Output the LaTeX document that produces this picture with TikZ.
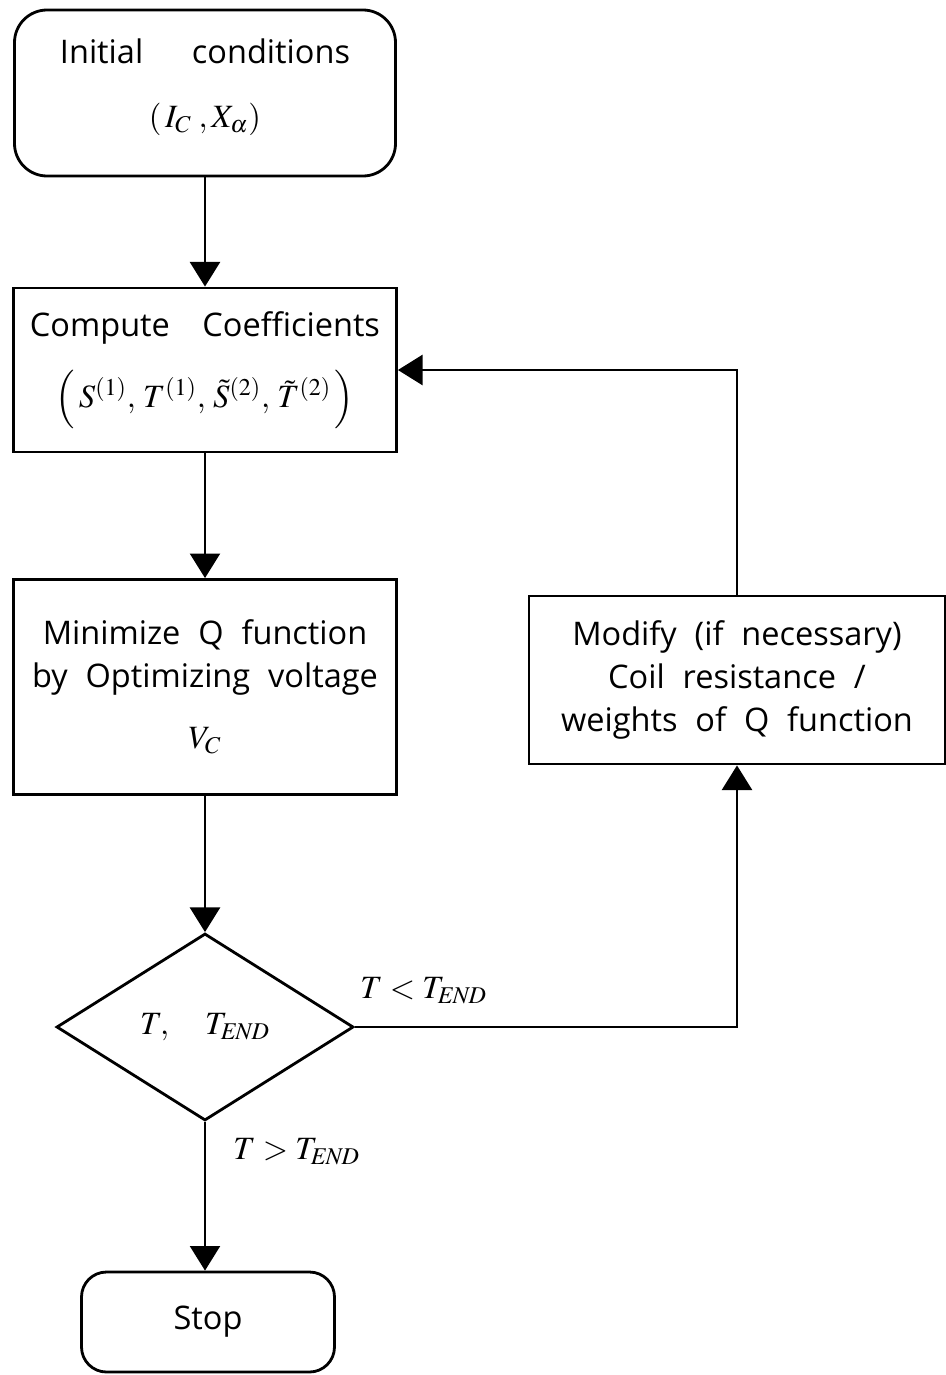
\documentclass[tikz,border=0pt]{standalone}
\usepackage{mathptmx}
\usepackage[no-math]{fontspec}
\setmainfont{Open Sans}
\usetikzlibrary{arrows.meta,shapes.geometric,positioning}

\tikzset{
  txt/.style={font={\fontsize{18.5}{24.5}\selectfont\spaceskip=0.55em\relax}},
  block/.style={draw,rectangle,txt,align=center,inner sep=0pt},
  term/.style={block,rounded corners=0.65cm},
  decide/.style={draw,diamond,txt,inner sep=0pt,minimum width=5.94cm,minimum height=3.74cm},
}

\begin{document}
\begin{tikzpicture}[->,>={Triangle[length=14pt,width=17pt]},line width=1.6pt]
  \useasboundingbox (-4.1,1.86) rectangle (14.8,-25.64);

  \node[term,minimum width=7.62cm,minimum height=3.32cm] (init) {Initial\hspace{1.5em}conditions\\[12pt]$(\,I_C\;,X_\alpha)$\\[-13pt]};
  \node[block,minimum width=7.66cm,minimum height=3.28cm] (coef) [below of=init,node distance=5.54cm]
        {Compute\hspace{1em}Coefficients\\[14pt]$\Bigl(\,S^{(1)},\,T^{(1)},\,\tilde{S}^{(2)},\,\tilde{T}^{(2)}\,\Bigr)$};
  \node[block,minimum width=7.66cm,minimum height=4.3cm] (mini) [below of=coef,node distance=6.34cm]
        {Minimize Q function\\by Optimizing voltage\\[10pt]$V_C$};
  \node[block,minimum width=8.32cm,minimum height=3.36cm] (mod) [right of=mini,node distance=10.64cm,yshift=0.14cm]
        {Modify (if necessary)\\Coil resistance /\\weights of Q function};
  \node[decide] (dec) [below of=mini,node distance=6.8cm] {$T,\quad T_{\mathit{END}}$};
  \node[term,rounded corners=0.5cm,minimum width=5.06cm,minimum height=2cm] (stop) [below of=dec,node distance=5.9cm,xshift=0.06cm] {Stop};

  \path (init) edge (coef)
        (coef) edge (mini)
        (mini) edge (dec);
  \draw (dec.east) -| node[pos=0.09,above=9pt,txt] {$T<T_{\mathit{END}}$} (mod.south);
  \draw (mod.north) |- (coef.east);
  \draw (dec.south) -- node[pos=0.2,right=12pt,txt] {$T>T_{\mathit{END}}$} (dec.south |- stop.north);
\end{tikzpicture}
\end{document}
